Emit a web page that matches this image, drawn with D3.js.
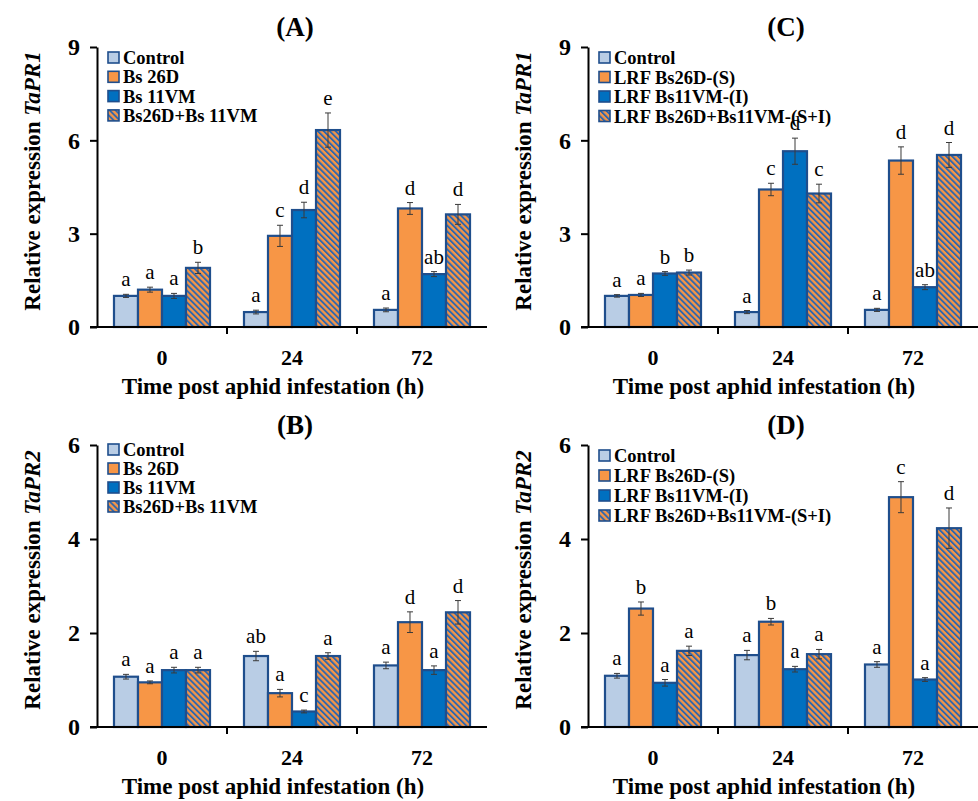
<!DOCTYPE html>
<html>
<head>
<meta charset="utf-8">
<style>
  body { margin: 0; background: #fff; }
  svg text { font-family: "Liberation Serif", "Times New Roman", serif; }
</style>
</head>
<body>
<svg id="chart" width="978" height="801"></svg>
<script src="https://cdnjs.cloudflare.com/ajax/libs/d3/7.8.5/d3.min.js"></script>
<script>
  // categories and legend labels
  var times   = ["0", "24", "72"];
  var seriesA = ["Control", "Bs 26D", "Bs 11VM", "Bs26D+Bs 11VM"];
  var seriesC = ["Control", "LRF Bs26D-(S)", "LRF Bs11VM-(I)", "LRF Bs26D+Bs11VM-(S+I)"];

  // values per time point, one entry per series
  var meanA = [[1.00, 1.20, 1.00, 1.90], [0.48, 2.93, 3.76, 6.33], [0.55, 3.81, 1.70, 3.62]];
  var errA  = [[0.05, 0.08, 0.08, 0.18], [0.06, 0.34, 0.25, 0.55], [0.06, 0.19, 0.08, 0.32]];
  var letA  = [["a", "a", "a", "b"], ["a", "c", "d", "e"], ["a", "d", "ab", "d"]];

  var meanB = [[1.07, 0.95, 1.21, 1.21], [1.51, 0.72, 0.33, 1.51], [1.31, 2.23, 1.21, 2.44]];
  var errB  = [[0.05, 0.03, 0.06, 0.06], [0.10, 0.08, 0.03, 0.07], [0.07, 0.22, 0.09, 0.25]];
  var letB  = [["a", "a", "a", "a"], ["ab", "a", "c", "a"], ["a", "d", "a", "d"]];

  var meanC = [[1.00, 1.03, 1.72, 1.75], [0.48, 4.42, 5.65, 4.29], [0.55, 5.35, 1.28, 5.53]];
  var errC  = [[0.04, 0.05, 0.06, 0.08], [0.05, 0.20, 0.42, 0.30], [0.05, 0.44, 0.08, 0.40]];
  var letC  = [["a", "a", "b", "b"], ["a", "c", "d", "c"], ["a", "d", "ab", "d"]];

  var meanD = [[1.09, 2.52, 0.94, 1.62], [1.53, 2.24, 1.23, 1.55], [1.33, 4.89, 1.01, 4.23]];
  var errD  = [[0.05, 0.14, 0.07, 0.10], [0.10, 0.07, 0.06, 0.10], [0.06, 0.33, 0.04, 0.43]];
  var letD  = [["a", "b", "a", "a"], ["a", "b", "a", "a"], ["a", "c", "a", "d"]];

  var ticks9 = [0, 3, 6, 9],
      ticks6 = [0, 2, 4, 6];

  var fills  = ["#b9cde5", "#f79646", "#0070c0", "url(#hatch)"],
      edge   = "#1f4e8c";

  var svg = d3.select("#chart");

  // orange with blue diagonal stripes
  var pat = svg.append("defs").append("pattern")
      .attr("id", "hatch")
      .attr("patternUnits", "userSpaceOnUse")
      .attr("width", 4.2).attr("height", 4.2)
      .attr("patternTransform", "rotate(-45)");
  pat.append("rect").attr("width", 4.2).attr("height", 4.2).attr("fill", "#f79646");
  pat.append("rect").attr("width", 1.9).attr("height", 4.2).attr("fill", "#2f67ae");

  var panels = [
    { tag: "(A)", gene: "TaPR1", left: 97,  top: 47,  bottom: 327, max: 9, ticks: ticks9, series: seriesA, mean: meanA, err: errA, lets: letA, legTop: 58,  legStep: 19.3 },
    { tag: "(B)", gene: "TaPR2", left: 97,  top: 445, bottom: 727, max: 6, ticks: ticks6, series: seriesA, mean: meanB, err: errB, lets: letB, legTop: 450, legStep: 19 },
    { tag: "(C)", gene: "TaPR1", left: 588, top: 47,  bottom: 327, max: 9, ticks: ticks9, series: seriesC, mean: meanC, err: errC, lets: letC, legTop: 58,  legStep: 19.5 },
    { tag: "(D)", gene: "TaPR2", left: 588, top: 445, bottom: 727, max: 6, ticks: ticks6, series: seriesC, mean: meanD, err: errD, lets: letD, legTop: 456, legStep: 20 }
  ];

  panels.forEach(function(p) {
    var x0 = d3.scaleBand().domain(times).range([p.left, p.left + 390]);
    var x1 = d3.scaleBand().domain(d3.range(4)).range([0, x0.bandwidth()]).paddingOuter(0.708);
    var y  = d3.scaleLinear().domain([0, p.max]).range([p.bottom, p.top]);
    var g  = svg.append("g");

    // bars, error bars, letters
    times.forEach(function(t, ti) {
      var grp = g.append("g").attr("transform", "translate(" + x0(t) + ",0)");
      var rows = p.mean[ti].map(function(v, si) {
        return { s: si, v: v, e: p.err[ti][si], l: p.lets[ti][si] };
      });
      grp.selectAll("rect").data(rows).enter().append("rect")
          .attr("x", function(d) { return x1(d.s); })
          .attr("y", function(d) { return y(d.v); })
          .attr("width", x1.bandwidth())
          .attr("height", function(d) { return y(0) - y(d.v); })
          .attr("fill", function(d) { return fills[d.s]; })
          .attr("stroke", edge)
          .attr("stroke-width", 2.2);

      var eb = grp.selectAll(".eb").data(rows).enter().append("g")
          .attr("transform", function(d) { return "translate(" + (x1(d.s) + x1.bandwidth() / 2) + ",0)"; })
          .attr("stroke", "#3a3a3a").attr("stroke-width", 1);
      eb.append("line").attr("y1", function(d) { return y(d.v + d.e); }).attr("y2", function(d) { return y(d.v - d.e); });
      eb.append("line").attr("x1", -3).attr("x2", 3).attr("y1", function(d) { return y(d.v + d.e); }).attr("y2", function(d) { return y(d.v + d.e); });
      eb.append("line").attr("x1", -3).attr("x2", 3).attr("y1", function(d) { return y(d.v - d.e); }).attr("y2", function(d) { return y(d.v - d.e); });

      grp.selectAll(".lt").data(rows).enter().append("text")
          .attr("x", function(d) { return x1(d.s) + x1.bandwidth() / 2; })
          .attr("y", function(d) { return y(d.v + d.e) - 8; })
          .attr("text-anchor", "middle")
          .attr("font-size", 21)
          .text(function(d) { return d.l; });
    });

    // y axis
    var ya = g.append("g").attr("transform", "translate(" + p.left + ",0)")
        .call(d3.axisLeft(y).tickValues(p.ticks).tickSize(7).tickSizeOuter(0).tickPadding(10).tickFormat(d3.format("d")));
    ya.selectAll("path, line").attr("stroke", "#000").attr("stroke-width", 2);
    ya.selectAll("text").attr("font-size", 24).attr("font-weight", "bold")
        .attr("font-family", "Liberation Serif, Times New Roman, serif").attr("fill", "#000");

    // x axis: baseline, ticks between groups, labels
    var xr = x0.range();
    g.append("line").attr("x1", xr[0] - 7).attr("x2", xr[1]).attr("y1", y(0)).attr("y2", y(0))
        .attr("stroke", "#000").attr("stroke-width", 2);
    g.selectAll(".xt").data(times.slice(1)).enter().append("line")
        .attr("x1", function(t) { return x0(t); }).attr("x2", function(t) { return x0(t); })
        .attr("y1", y(0)).attr("y2", y(0) + 7)
        .attr("stroke", "#000").attr("stroke-width", 2);
    g.selectAll(".xl").data(times).enter().append("text")
        .attr("x", function(t) { return x0(t) + x0.bandwidth() / 2; })
        .attr("y", y(0) + 38)
        .attr("text-anchor", "middle").attr("font-size", 22).attr("font-weight", "bold")
        .text(function(t) { return t; });

    g.append("text")
        .attr("x", (xr[0] + xr[1]) / 2 - 19)
        .attr("y", y(0) + 67)
        .attr("text-anchor", "middle").attr("font-size", 23).attr("font-weight", "bold")
        .text("Time post aphid infestation (h)");

    // y title
    var yt = g.append("text")
        .attr("transform", "translate(" + (p.left - 57) + "," + ((p.top + p.bottom) / 2 - 6) + ") rotate(-90)")
        .attr("text-anchor", "middle").attr("font-size", 23).attr("font-weight", "bold");
    yt.append("tspan").text("Relative expression ");
    yt.append("tspan").attr("font-style", "italic").text(p.gene);

    // panel tag
    g.append("text")
        .attr("x", (xr[0] + xr[1]) / 2 + 3)
        .attr("y", p.top - 11)
        .attr("text-anchor", "middle").attr("font-size", 27).attr("font-weight", "bold")
        .text(p.tag);

    // legend
    var leg = g.selectAll(".lg").data(p.series).enter().append("g")
        .attr("transform", function(d, i) { return "translate(" + (p.left + 11) + "," + (p.legTop + i * p.legStep) + ")"; });
    leg.append("rect").attr("x", 0).attr("y", -6).attr("width", 11).attr("height", 11)
        .attr("fill", function(d, i) { return fills[i]; })
        .attr("stroke", edge).attr("stroke-width", 1.6);
    leg.append("text").attr("x", 15).attr("y", 6)
        .attr("font-size", 18.5).attr("font-weight", "bold")
        .text(function(d) { return d; });
  });
</script>
</body>
</html>
